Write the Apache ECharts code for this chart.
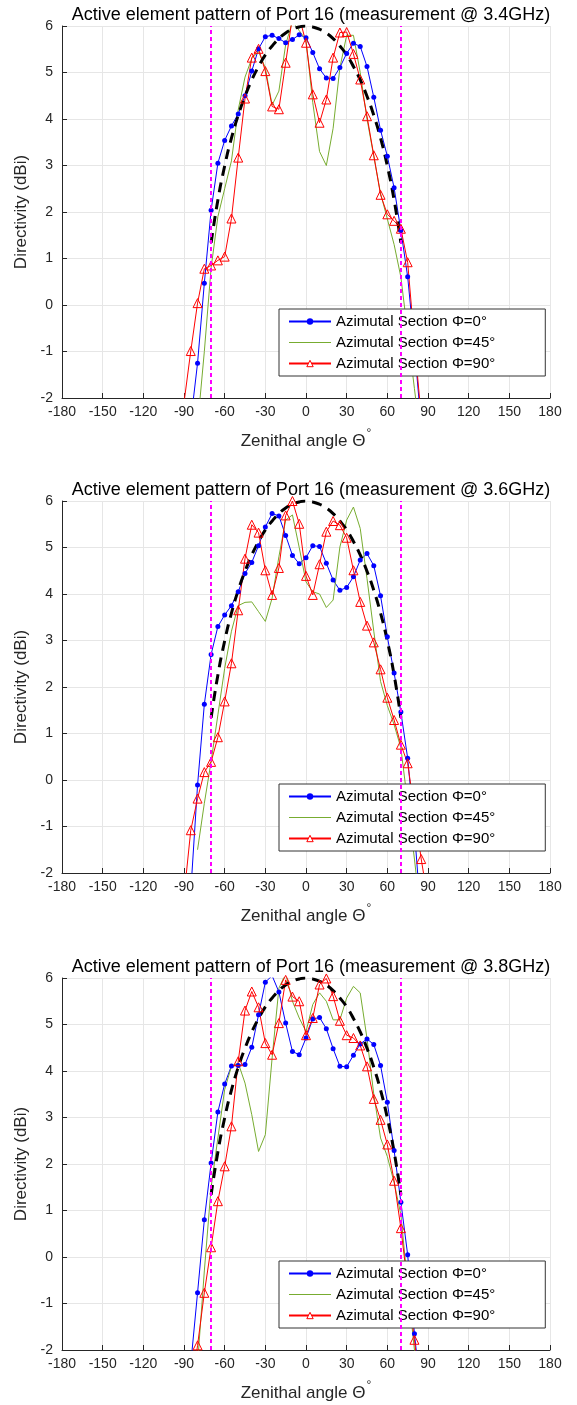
<!DOCTYPE html>
<html>
<head>
<meta charset="utf-8">
<script src="https://cdn.jsdelivr.net/npm/echarts@6/dist/echarts.min.js"></script>
<style>
  html, body { margin: 0; padding: 0; background: #fff; }
  #chart { width: 577px; height: 1405px; }
</style>
</head>
<body>
<div id="chart"></div>
<script>
// zenith angles (deg) of the measured cuts
const theta = [-90, -85, -80, -75, -70, -65, -60, -55, -50, -45, -40, -35, -30, -25, -20, -15, -10, -5,
  0, 5, 10, 15, 20, 25, 30, 35, 40, 45, 50, 55, 60, 65, 70, 75, 80, 85, 90];

// 3.4 GHz
const phi0_34 = [null, -2.5, -1.25, 0.47, 2.04, 3.05, 3.54, 3.85, 4.11, 4.50, 5.03, 5.51, 5.77, 5.80, 5.73, 5.64, 5.71, 5.81,
  5.75, 5.43, 5.08, 4.88, 4.87, 5.11, 5.41, 5.63, 5.56, 5.13, 4.47, 3.76, 3.20, 2.52, 1.60, 0.61, -0.9, -2.6, null];
const phi45_34 = [null, null, -2.6, -1.0, 0.8, 1.9, 2.5, 3.1, 4.2, 4.9, 5.3, 5.45, 5.1, 4.3, 4.6, 5.6, 6.1, 5.9,
  5.7, 4.35, 3.3, 3.0, 3.8, 5.1, 5.8, 5.8, 5.0, 4.0, 3.2, 2.4, 1.85, 1.3, 0.6, -0.6, -1.8, -3.0, null];
const phi90_34 = [-2.1, -0.99, 0.04, 0.78, 0.85, 0.96, 1.04, 1.86, 3.17, 4.44, 5.32, 5.51, 5.03, 4.27, 4.21, 5.21, 6.2, 6.2,
  5.64, 4.53, 3.92, 4.42, 5.32, 5.86, 5.87, 5.4, 4.85, 4.06, 3.22, 2.37, 1.95, 1.81, 1.64, 0.92, -0.8, -2.4, null];

// 3.6 GHz
const phi0_36 = [null, -2.4, -0.11, 1.63, 2.70, 3.30, 3.55, 3.75, 4.05, 4.44, 4.68, 5.04, 5.44, 5.73, 5.68, 5.26, 4.83, 4.65,
  4.78, 5.04, 5.02, 4.66, 4.30, 4.08, 4.14, 4.37, 4.73, 4.87, 4.61, 3.96, 3.08, 2.30, 1.46, 0.47, -1.1, -3.0, null];
const phi45_36 = [null, null, -1.5, -0.5, 0.4, 1.4, 2.4, 3.2, 3.75, 3.82, 3.83, 3.62, 3.41, 3.91, 4.8, 5.59, 5.7, 5.0,
  4.26, 4.05, 4.0, 3.71, 3.87, 5.01, 5.59, 5.87, 5.41, 4.33, 3.2, 2.12, 1.6, 1.19, 0.69, -0.5, -1.7, -3.0, null];
const phi90_36 = [-2.5, -1.08, -0.40, 0.17, 0.39, 0.92, 1.69, 2.51, 3.65, 4.76, 5.49, 5.32, 4.51, 3.98, 4.56, 5.69, 6.0, 5.51,
  4.39, 3.98, 4.64, 5.34, 5.57, 5.48, 5.21, 4.51, 3.83, 3.32, 2.96, 2.38, 1.77, 1.29, 0.76, 0.36, -0.67, -1.7, -2.6];

// 3.8 GHz
const phi0_38 = [null, -2.3, -0.77, 0.80, 2.02, 3.12, 3.72, 4.11, 4.12, 4.14, 4.51, 5.21, 5.91, 6.05, 5.7, 5.03, 4.42, 4.35,
  4.71, 5.12, 5.15, 4.91, 4.48, 4.10, 4.09, 4.34, 4.58, 4.69, 4.57, 4.12, 3.33, 2.29, 1.18, 0.05, -1.65, -3.0, null];
const phi45_38 = [null, null, -2.3, -0.3, 1.5, 2.56, 3.6, 4.1, 4.17, 3.74, 3.06, 2.27, 2.63, 4.28, 5.78, 6.1, 5.5, 5.14,
  4.85, 5.43, 5.68, 5.50, 5.10, 5.10, 5.57, 5.82, 5.68, 4.7, 3.5, 2.56, 2.16, 1.6, 0.91, -0.6, -2.0, -3.0, null];
const phi90_38 = [null, -3.0, -1.9, -0.77, 0.21, 1.20, 1.95, 2.81, 4.21, 5.30, 5.71, 5.37, 4.60, 4.35, 5.03, 5.96, 5.6, 5.50,
  4.77, 5.14, 5.86, 5.99, 5.61, 5.08, 4.77, 4.71, 4.55, 4.10, 3.40, 2.95, 2.42, 1.64, 0.62, -0.6, -1.78, -3.0, null];

// reference element pattern (black dashed)
const modelTheta = [-70, -65, -60, -55, -50, -45, -40, -35, -30, -25, -20, -15, -10, -5, 0,
  5, 10, 15, 20, 25, 30, 35, 40, 45, 50, 55, 60, 65, 70];
const modelVals = [1.34, 2.26, 2.99, 3.59, 4.08, 4.49, 4.84, 5.13, 5.38, 5.57, 5.73, 5.85, 5.93, 5.98, 6.0,
  5.98, 5.93, 5.85, 5.73, 5.57, 5.38, 5.13, 4.84, 4.49, 4.08, 3.59, 2.99, 2.26, 1.34];

const boundaryAngles = [-70, 70];
const xTicks = { min: -180, max: 180, step: 30 };
const yTicks = { min: -2, max: 6, step: 1 };
const freqs = ['3.4GHz', '3.6GHz', '3.8GHz'];
const cuts = [
  [phi0_34, phi45_34, phi90_34],
  [phi0_36, phi45_36, phi90_36],
  [phi0_38, phi45_38, phi90_38]
];
const names = ['Azimutal Section Φ=0°', 'Azimutal Section Φ=45°', 'Azimutal Section Φ=90°'];

const gridTops = [26, 501, 978];
const font = 'Liberation Sans, Arial, sans-serif';

const pairs = (xs, ys) => xs.map((x, i) => [x, ys[i]]).filter(p => p[1] !== null);

const chart = echarts.init(document.getElementById('chart'), null, { renderer: 'canvas' });

const option = {
  animation: false,
  backgroundColor: '#fff',
  textStyle: { fontFamily: font },
  title: [],
  grid: [],
  xAxis: [],
  yAxis: [],
  legend: [],
  series: []
};

gridTops.forEach((top, k) => {
  option.title.push({
    text: 'Active element pattern of Port 16 (measurement @ ' + freqs[k] + ')',
    left: 306,
    textAlign: 'center',
    top: top - 25,
    textStyle: { fontSize: 18, fontWeight: 'normal', color: '#000', fontFamily: font }
  });
  option.grid.push({ left: 62, width: 488, top: top, height: 372 });
  option.xAxis.push({
    gridIndex: k,
    type: 'value',
    min: xTicks.min, max: xTicks.max, interval: xTicks.step,
    name: 'Zenithal angle Θ{s|°}',
    nameLocation: 'middle',
    nameGap: 30,
    nameTextStyle: {
      color: '#262626', fontSize: 17, fontFamily: font,
      rich: { s: { fontSize: 12, verticalAlign: 'top', padding: [0, 0, 14, 1] } }
    },
    axisLine: { onZero: false, lineStyle: { color: '#262626', width: 1 } },
    axisTick: { inside: true, length: 5, lineStyle: { color: '#262626' } },
    axisLabel: { color: '#262626', fontSize: 14, margin: 7, fontFamily: font },
    splitLine: { show: true, lineStyle: { color: '#e6e6e6', width: 1 } }
  });
  option.yAxis.push({
    gridIndex: k,
    type: 'value',
    min: yTicks.min, max: yTicks.max, interval: yTicks.step,
    name: 'Directivity (dBi)',
    nameLocation: 'middle',
    nameGap: 27,
    nameTextStyle: { color: '#262626', fontSize: 17, fontFamily: font },
    axisLine: { show: true, onZero: false, lineStyle: { color: '#262626', width: 1 } },
    axisTick: { show: true, inside: true, length: 5, lineStyle: { color: '#262626' } },
    axisLabel: { color: '#262626', fontSize: 14, margin: 9, fontFamily: font },
    splitLine: { show: true, lineStyle: { color: '#e6e6e6', width: 1 } }
  });
  option.legend.push({
    data: [
      { name: names[0] },
      { name: names[1], icon: 'path://M0,0h42v1h-42z' },
      { name: names[2], itemStyle: { color: '#fff', borderColor: '#ff0000', borderWidth: 1 } }
    ],
    orient: 'vertical',
    left: 279,
    top: top + 283,
    backgroundColor: '#fff',
    borderColor: '#333',
    borderWidth: 1,
    padding: [4, 50, 4, 9],
    itemGap: 4,
    itemWidth: 42,
    itemHeight: 8,
    selectedMode: false,
    textStyle: { fontSize: 15, color: '#000', fontFamily: font, lineHeight: 17 }
  });

  const [c0, c45, c90] = cuts[k];
  option.series.push({
    name: names[0], type: 'line', xAxisIndex: k, yAxisIndex: k,
    data: pairs(theta, c0),
    symbol: 'circle', symbolSize: 5,
    lineStyle: { color: '#0000ff', width: 1 },
    itemStyle: { color: '#0000ff' }
  });
  option.series.push({
    name: names[1], type: 'line', xAxisIndex: k, yAxisIndex: k,
    data: pairs(theta, c45),
    symbol: 'none', showSymbol: false,
    lineStyle: { color: '#77ac30', width: 1 },
    itemStyle: { color: '#77ac30' }
  });
  option.series.push({
    name: names[2], type: 'line', xAxisIndex: k, yAxisIndex: k,
    data: pairs(theta, c90),
    symbol: 'triangle', symbolSize: 9,
    lineStyle: { color: '#ff0000', width: 1 },
    itemStyle: { color: 'rgba(255,255,255,0)', borderColor: '#ff0000', borderWidth: 1 }
  });
  option.series.push({
    name: 'model', type: 'line', xAxisIndex: k, yAxisIndex: k,
    data: pairs(modelTheta, modelVals),
    symbol: 'none', smooth: true,
    lineStyle: { color: '#000', width: 3, type: [10, 7] },
    silent: true
  });
  option.series.push({
    name: 'bounds', type: 'line', xAxisIndex: k, yAxisIndex: k,
    data: [],
    markLine: {
      silent: true,
      symbol: ['none', 'none'],
      label: { show: false },
      lineStyle: { color: '#ff00ff', width: 2, type: [4, 3] },
      data: boundaryAngles.map(a => ({ xAxis: a }))
    }
  });
});

chart.setOption(option);
</script>
</body>
</html>
